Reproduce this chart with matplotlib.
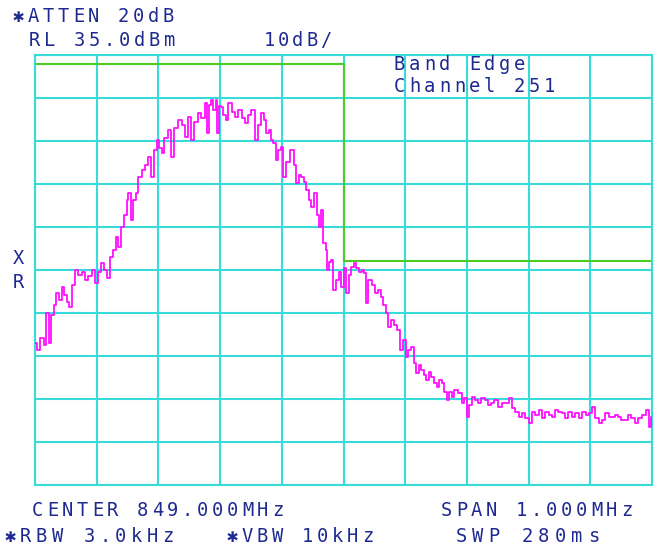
import numpy as np
import matplotlib.pyplot as plt

# trace: offset from centre (kHz) and level (dBm)
freq_khz = [-500, -495, -488, -483, -480, -475, -472, -468, -463, -458, -455, -450,
            -447, -443, -438, -432, -427, -421, -416, -411, -405, -400, -395, -390,
            -386, -382, -376, -371, -368, -363, -358, -353, -350, -347, -343, -339,
            -335, -330, -324, -319, -314, -309, -304, -301, -296, -293, -288, -281,
            -277, -272, -265, -259, -254, -249, -244, -239, -233, -228, -221, -220,
            -217, -213, -209, -205, -204, -201, -197, -192, -189, -184, -179, -173,
            -168, -162, -157, -152, -147, -140, -136, -132, -127, -124, -119, -116,
            -111, -108, -103, -100, -95, -90, -83, -79, -75, -70, -67, -62,
            -59, -54, -51, -46, -41, -38, -35, -30, -27, -25, -22, -19,
            -14, -10, -6, -1, 2, 7, 10, 14, 19, 23, 27, 32,
            35, 38, 43, 48, 54, 59, 62, 67, 70, 75, 80, 85,
            88, 94, 98, 103, 107, 111, 116, 120, 124, 128, 133, 136,
            141, 144, 149, 153, 157, 161, 166, 169, 174, 177, 182, 189,
            194, 198, 202, 205, 210, 215, 221, 226, 232, 237, 242, 247,
            254, 259, 265, 270, 275, 282, 287, 291, 298, 303, 308, 314,
            319, 324, 330, 335, 340, 345, 351, 356, 361, 368, 372, 379,
            384, 390, 395, 400, 404, 411, 416, 421, 427, 432, 437, 443,
            448, 453, 459, 464, 469, 476, 480, 487, 492, 497, 500]
level_dbm = [-32.0, -33.6, -30.8, -32.4, -25.0, -32.0, -25.5, -23.1, -20.3, -22.0, -19.0, -20.8,
             -22.4, -23.6, -18.5, -15.0, -16.2, -15.5, -17.3, -16.4, -15.0, -18.0, -15.5, -13.4,
             -15.0, -16.9, -12.0, -10.3, -7.3, -9.7, -5.0, -2.2, 1.3, 2.9, -3.4, 1.3,
             2.9, 6.6, 8.3, 9.4, 11.3, 6.6, 12.9, 15.2, 13.4, 12.2, 15.7, 17.6,
             11.3, 18.0, 19.9, 18.7, 15.9, 20.6, 15.2, 19.4, 21.5, 20.3, 23.8, 16.9,
             23.4, 24.5, 22.2, 24.5, 16.9, 23.1, 22.9, 21.0, 19.9, 23.8, 21.7, 20.6,
             22.2, 20.3, 19.2, 21.0, 22.2, 15.2, 18.7, 21.5, 19.9, 16.9, 17.6, 15.2,
             14.5, 10.6, 12.9, 13.6, 6.6, 10.1, 12.9, 9.4, 5.2, 7.1, 6.6, 5.5,
             3.6, 1.3, -0.3, 2.9, -2.2, -5.0, -1.0, -8.7, -10.3, -15.0, -13.1, -12.7,
             -19.7, -17.3, -15.5, -19.0, -14.5, -20.3, -16.2, -14.3, -13.4, -14.5, -15.5, -15.0,
             -15.7, -22.7, -17.3, -18.5, -20.3, -19.7, -21.3, -23.1, -25.0, -28.3, -26.6, -27.8,
             -29.0, -33.6, -31.3, -35.2, -33.6, -32.9, -36.6, -39.0, -37.1, -38.3, -39.4, -40.6,
             -38.7, -39.9, -41.3, -42.2, -40.6, -41.3, -43.4, -45.2, -43.4, -44.5, -42.9, -43.6,
             -45.9, -44.8, -49.2, -46.4, -44.5, -45.2, -45.9, -44.8, -45.2, -46.4, -45.9, -45.2,
             -46.9, -45.9, -45.9, -44.8, -47.1, -48.0, -49.2, -48.3, -49.4, -50.6, -48.0, -48.7,
             -47.6, -49.4, -48.0, -48.7, -49.2, -47.6, -48.0, -48.3, -49.4, -48.0, -49.2, -48.3,
             -49.4, -48.0, -48.7, -48.3, -46.9, -49.4, -50.6, -49.9, -48.3, -49.2, -49.2, -48.7,
             -49.2, -49.9, -49.9, -48.7, -49.4, -50.6, -49.4, -48.7, -47.6, -51.5, -49.2]

# limit line (kHz, dBm)
limit_f = [-500, 0, 0, 500]
limit_db = [33, 33, -13, -13]

ref_level = 35
db_per_div = 10
span_khz = 1000

W, H = 657, 548
txt_col = '#1f2a90'
grid_col = '#38dada'

fig = plt.figure(figsize=(W / 100, H / 100), dpi=100)
ax = fig.add_axes([35 / W, 1 - 485 / H, 617 / W, 430 / H])

ax.plot(freq_khz, level_dbm, color='#ff10ff', lw=1.3, drawstyle='steps-mid', zorder=3)
ax.plot(limit_f, limit_db, color='#4ccc22', lw=1.5, zorder=2)

ax.set_xlim(-span_khz / 2, span_khz / 2)
ax.set_ylim(ref_level - 10 * db_per_div, ref_level)
ax.set_xticks(np.arange(-500, 501, 100))
ax.set_yticks(np.arange(ref_level - 100, ref_level + 1, db_per_div))
ax.grid(True, color=grid_col, lw=1.5)
ax.tick_params(length=0, labelbottom=False, labelleft=False)
for s in ax.spines.values():
    s.set_color(grid_col)
    s.set_linewidth(1.5)


def label(s, x, y, pitch=15):
    # fixed-pitch screen text, x/y in pixels from top-left
    for i, ch in enumerate(s):
        fig.text((x + (i + 0.5) * pitch) / W, 1 - y / H, ch,
                 ha='center', va='center', fontsize=13.5, color=txt_col,
                 family=['DejaVu Sans Mono', 'DejaVu Sans'])


label('✱ATTEN 20dB', 11, 16)
label('RL 35.0dBm', 27, 40)
label('10dB/', 262, 40, pitch=14.2)
label('Band Edge', 392, 65)
label('Channel 251', 392, 86)
label('X', 11, 259)
label('R', 11, 282)
label('CENTER 849.000MHz', 30, 511)
label('SPAN 1.000MHz', 439, 511)
label('✱RBW 3.0kHz', 2, 537, pitch=15.8)
label('✱VBW 10kHz', 225, 537)
label('SWP 280ms', 453, 537, pitch=16.5)

fig.savefig('out.png', dpi=100, facecolor='white')
